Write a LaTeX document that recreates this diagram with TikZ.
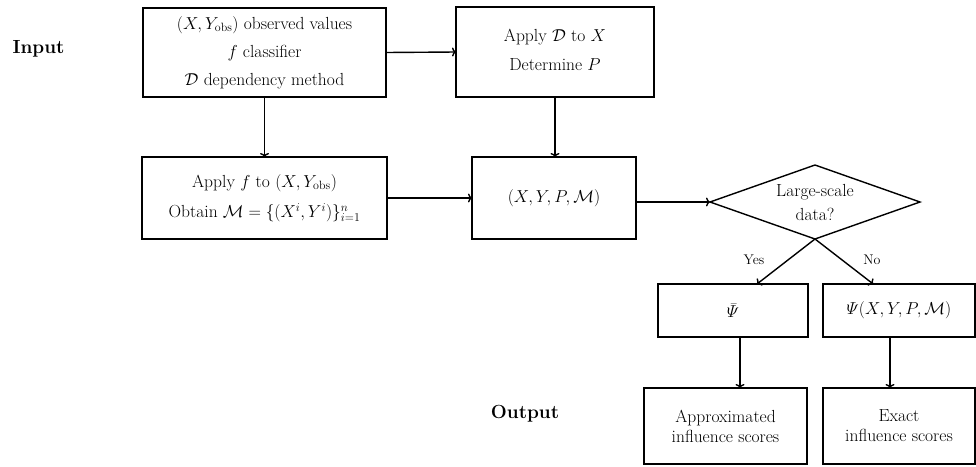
\documentclass[tikz,border=0pt]{standalone}
\usepackage{amsmath}
\usetikzlibrary{shapes.geometric,arrows.meta,calc}

\tikzset{
  box/.style={draw, line width=1.4pt, rectangle, inner sep=0pt, outer sep=0pt,
    align=center, font=\fontsize{17.5}{20}\selectfont},
  decision/.style={draw, line width=1.4pt, diamond, aspect=2.84, inner sep=0pt,
    outer sep=0pt, minimum width=210, minimum height=74, align=center,
    font=\fontsize{17.5}{20}\selectfont},
  heading/.style={font=\fontsize{19}{22}\selectfont\bfseries},
  branch/.style={font=\fontsize{14}{16}\selectfont},
  arr/.style={line width=1.4pt, -{To[length=4pt,width=9pt]}},
}

\begin{document}
\begin{tikzpicture}[x=1pt,y=-1pt]
\useasboundingbox (0,0) rectangle (976,466);

% section headings
\node[heading] (inlab)  at (38.5,49) {Input};
\node[heading] (outlab) at (525,414) {Output};

% input stage
\node[box, minimum width=243, minimum height=89] (b1) at (264.5,52.5)
  {$(X, Y_{\mathrm{obs}})$ observed values\\[8pt]
   $f$ classifier\\[8pt]
   $\mathcal{D}$ dependency method};
\node[box, minimum width=198, minimum height=90] (b2) at (555,52)
  {\raisebox{-5pt}{\begin{tabular}{@{}c@{}}Apply $\mathcal{D}$ to $X$\\[9pt]
   Determine $P$\end{tabular}}};

% processing stage
\node[box, minimum width=245, minimum height=82] (b3) at (264.5,198)
  {Apply $f$ to $(X, Y_{\mathrm{obs}})$\\[10pt]
   Obtain $\mathcal{M} = \{(X^i, Y^i)\}_{i=1}^{n}$};
\node[box, minimum width=164, minimum height=82] (b4) at (554,198)
  {\raisebox{4pt}{$(X, Y, P, \mathcal{M})$}};

% decision
\node[decision] (dia) at (815,202) {Large-scale\\[4pt]data?};

% the two estimators
\node[box, minimum width=150, minimum height=53] (b5) at (733,310.5)
  {$\bar{\varPsi}$};
\node[box, minimum width=152, minimum height=53] (b6) at (899,310.5)
  {$\varPsi(X, Y, P, \mathcal{M})$};

% results
\node[box, minimum width=163, minimum height=76] (b7) at (725.5,426)
  {Approximated\\influence scores};
\node[box, minimum width=152, minimum height=76] (b8) at (899,426)
  {Exact\\influence scores};

% connectors
\draw[arr] (b1.east) -- (b2.west);
\draw[arr] (b1.south) -- (b3.north);
\draw[arr] (b2.south) -- (b2.south |- b4.north);
\draw[arr] (b3.east) -- (b4.west);
\draw[arr] (dia.west -| b4.east) -- (dia.west);
\draw[arr] (dia.south) -- ($(b5.north west)!0.66!(b5.north east)$);
\draw[arr] (dia.south) -- ($(b6.north west)!0.33!(b6.north east)$);
\draw[arr] ([xshift=7]b5.south) coordinate (s5) -- (s5 |- b7.north);
\draw[arr] ([xshift=-9]b6.south) coordinate (s6) -- (s6 |- b8.north);

% branch labels
\node[branch] (yes) at (754,260) {Yes};
\node[branch] (no)  at (872,260) {No};
\end{tikzpicture}
\end{document}
